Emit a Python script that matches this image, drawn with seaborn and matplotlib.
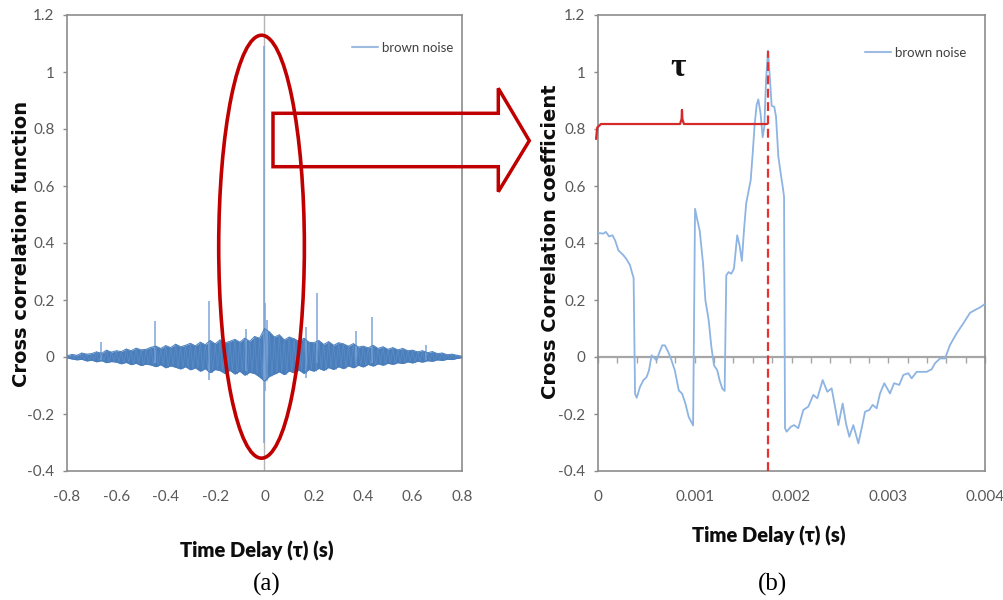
import numpy as np
import pandas as pd
import matplotlib
matplotlib.use("Agg")
import matplotlib.pyplot as plt
import seaborn as sns
from matplotlib.patches import Ellipse, Polygon

# ---------------- data ----------------
# (a) cross-correlation over +-0.8 s: noise band envelope (upper / lower) and isolated spikes
left_x = np.linspace(-0.8, 0.8, 81)
left_upper = [0.004, 0.009, 0.006, 0.014, 0.010, 0.012, 0.018, 0.013, 0.024, 0.017,
              0.022, 0.019, 0.028, 0.022, 0.031, 0.025, 0.027, 0.034, 0.038, 0.030,
              0.040, 0.033, 0.045, 0.036, 0.041, 0.048, 0.039, 0.052, 0.043, 0.058,
              0.046, 0.060, 0.050, 0.055, 0.062, 0.052, 0.066, 0.055, 0.072, 0.066,
              0.100, 0.088, 0.070, 0.078, 0.060, 0.070, 0.064, 0.055, 0.066, 0.052,
              0.050, 0.058, 0.044, 0.054, 0.041, 0.050, 0.046, 0.038, 0.047, 0.035,
              0.038, 0.032, 0.041, 0.030, 0.036, 0.027, 0.033, 0.025, 0.030, 0.022,
              0.024, 0.018, 0.022, 0.015, 0.019, 0.012, 0.014, 0.008, 0.010, 0.006,
              0.003]
left_lower = [-0.003, -0.007, -0.010, -0.008, -0.014, -0.011, -0.017, -0.013, -0.020, -0.016,
              -0.018, -0.024, -0.019, -0.027, -0.022, -0.030, -0.025, -0.028, -0.034, -0.027,
              -0.038, -0.031, -0.036, -0.042, -0.034, -0.045, -0.038, -0.050, -0.041, -0.055,
              -0.044, -0.048, -0.058, -0.047, -0.060, -0.050, -0.064, -0.054, -0.058, -0.070,
              -0.085, -0.068, -0.060, -0.052, -0.062, -0.049, -0.056, -0.046, -0.058, -0.044,
              -0.050, -0.040, -0.047, -0.037, -0.044, -0.034, -0.041, -0.031, -0.038, -0.029,
              -0.035, -0.026, -0.032, -0.024, -0.029, -0.022, -0.026, -0.020, -0.023, -0.017,
              -0.021, -0.015, -0.018, -0.013, -0.015, -0.010, -0.012, -0.008, -0.009, -0.005,
              -0.002]
spike_x = [-0.662, -0.444, -0.224, -0.076, 0.0, 0.004, 0.012, 0.167, 0.214, 0.37, 0.434, 0.653]
spike_top = [0.054, 0.127, 0.198, 0.10, 1.09, 0.19, 0.13, 0.106, 0.226, 0.09, 0.141, 0.042]
spike_bottom = [-0.01, -0.02, -0.08, -0.05, -0.30, -0.12, -0.08, -0.075, -0.02, -0.03, -0.02, -0.01]

# (b) zoomed cross-correlation coefficient 0..0.004 s
right_x = [0.0, 0.000057, 0.000081, 0.000115, 0.00015, 0.000177, 0.000211, 0.000263, 0.000297,
           0.000331, 0.000355, 0.000368, 0.000383, 0.0004, 0.000434, 0.000468, 0.000503, 0.000527,
           0.000554, 0.000578, 0.000606, 0.00063, 0.000664, 0.000691, 0.000726, 0.00076, 0.000794,
           0.000835, 0.00087, 0.000904, 0.000938, 0.000983, 0.001003, 0.001027, 0.001051, 0.001086,
           0.00111, 0.001144, 0.001172, 0.001199, 0.001233, 0.001257, 0.001285, 0.001309, 0.001326,
           0.00135, 0.001377, 0.001405, 0.001439, 0.001463, 0.001487, 0.00151, 0.001532, 0.001555,
           0.001578, 0.0016, 0.00162, 0.00164, 0.001657, 0.00168, 0.001702, 0.001719, 0.001737,
           0.001757, 0.001778, 0.001795, 0.001822, 0.00184, 0.001864, 0.001888, 0.001909, 0.001923,
           0.001933, 0.00195, 0.001992, 0.002026, 0.00207, 0.002122, 0.002174, 0.002225, 0.002267,
           0.002322, 0.00237, 0.002415, 0.00245, 0.002484, 0.002529, 0.002563, 0.002598, 0.002639,
           0.002691, 0.002725, 0.00276, 0.002804, 0.002839, 0.00288, 0.002915, 0.002959, 0.003018,
           0.00306, 0.003114, 0.003156, 0.003207, 0.003242, 0.003294, 0.003346, 0.003397, 0.003449,
           0.003483, 0.003535, 0.003587, 0.003638, 0.003707, 0.003776, 0.003845, 0.003897, 0.003948,
           0.004]
right_y = [0.435, 0.433, 0.439, 0.423, 0.427, 0.409, 0.374, 0.357, 0.342,
           0.322, 0.292, 0.278, -0.129, -0.143, -0.105, -0.082, -0.070, -0.047,
           0.006, -0.002, -0.012, 0.012, 0.041, 0.041, 0.018, -0.012, -0.047,
           -0.117, -0.129, -0.164, -0.211, -0.240, 0.520, 0.480, 0.444, 0.327,
           0.199, 0.129, 0.035, -0.029, -0.047, -0.082, -0.111, -0.119, 0.287,
           0.298, 0.292, 0.310, 0.427, 0.392, 0.337, 0.45, 0.54, 0.58,
           0.62, 0.72, 0.82, 0.885, 0.904, 0.855, 0.771, 0.808, 0.972,
           1.075, 0.972, 0.881, 0.878, 0.843, 0.703, 0.645, 0.598, 0.562,
           -0.25, -0.262, -0.245, -0.239, -0.25, -0.186, -0.174, -0.133, -0.145,
           -0.081, -0.122, -0.11, -0.174, -0.239, -0.163, -0.233, -0.28, -0.239,
           -0.303, -0.25, -0.192, -0.186, -0.168, -0.18, -0.128, -0.092, -0.128,
           -0.092, -0.098, -0.063, -0.057, -0.075, -0.052, -0.052, -0.052, -0.043,
           -0.022, -0.005, -0.005, 0.042, 0.083, 0.118, 0.155, 0.165, 0.174,
           0.186]
peak_x = 0.001757
peak_y = 1.075
bracket_x = [-0.00002, -0.000008, 0.00003, 0.000848, 0.000864, 0.000868, 0.000872, 0.000888, 0.001747]
bracket_y = [0.765, 0.805, 0.8175, 0.8175, 0.835, 0.867, 0.835, 0.8175, 0.8175]

y_ticks = [-0.4, -0.2, 0.0, 0.2, 0.4, 0.6, 0.8, 1.0, 1.2]
y_ticklabels = ["-0.4", "-0.2", "0", "0.2", "0.4", "0.6", "0.8", "1", "1.2"]
left_xticks = [-0.8, -0.6, -0.4, -0.2, 0.0, 0.2, 0.4, 0.6, 0.8]
left_xticklabels = ["-0.8", "-0.6", "-0.4", "-0.2", "0", "0.2", "0.4", "0.6", "0.8"]
right_xticks = [0.0, 0.001, 0.002, 0.003, 0.004]
right_xticklabels = ["0", "0.001", "0.002", "0.003", "0.004"]

# ---------------- style ----------------
sns.set_theme(style="white")
SANS = ["Lato", "DejaVu Sans"]
plt.rcParams["font.family"] = SANS

W, H = 1004, 600
fig = plt.figure(figsize=(W / 100, H / 100), dpi=100)
fig.patch.set_facecolor("white")

def fx(px):
    return px / W

def fy(py):
    return 1 - py / H

axl = fig.add_axes([fx(67), fy(471), (462 - 67) / W, (471 - 15) / H])
axr = fig.add_axes([fx(598), fy(471), (985 - 598) / W, (471 - 15) / H])

BAND = "#4a7ebb"
SPIKE = "#7ea6d8"
LIGHT = "#8db4e2"
FRAME = "#8c8c8c"
TICKC = "#595959"
DARKRED = "#c00000"

# ---- left panel ----
axl.axvline(0, color="#b5b5b5", lw=1.0, zorder=0)
axl.fill_between(left_x, left_lower, left_upper, color=BAND, lw=0, zorder=2)
# saw-tooth trace through the envelope values gives the band its noisy texture
trace_x = np.ravel(np.column_stack([left_x, left_x + 0.01]))
trace_y = np.ravel(np.column_stack([left_upper, left_lower]))
sns.lineplot(x=trace_x, y=trace_y, ax=axl, color="#5b8cc8", lw=0.5, label="brown noise",
             estimator=None, sort=False, zorder=3)
sns.lineplot(x=left_x, y=left_upper, ax=axl, color=BAND, lw=0.7, legend=False,
             estimator=None, sort=False, zorder=3)
sns.lineplot(x=left_x, y=left_lower, ax=axl, color=BAND, lw=0.7, legend=False,
             estimator=None, sort=False, zorder=3)
axl.vlines(spike_x, spike_bottom, spike_top, colors=SPIKE, lw=1.1, zorder=2.5)
axl.set_xlim(-0.8, 0.8)
axl.set_ylim(-0.4, 1.2)
axl.set_xticks(left_xticks)
axl.set_xticklabels(left_xticklabels)

ell = Ellipse((-0.012, 0.387), 0.347, 1.484, fill=False, ec=DARKRED, lw=2.6,
              clip_on=False, zorder=6)
axl.add_patch(ell)

# ---- right panel ----
sec = axr.secondary_xaxis(0.25)
sec.set_xticks(np.arange(0, 0.00401, 0.0002))
sec.tick_params(axis="x", direction="out", length=4.5, width=1.0, color="#a6a6a6",
                labelbottom=False)
sec.spines["bottom"].set_color("#a6a6a6")
sec.spines["bottom"].set_linewidth(1.6)
for s in ["top", "left", "right"]:
    sec.spines[s].set_visible(False)

sns.lineplot(x=right_x, y=right_y, ax=axr, color=LIGHT, lw=1.3, label="brown noise",
             estimator=None, sort=False, zorder=3)
axr.vlines(peak_x, -0.4, peak_y, colors="#e8302e", linestyles=(0, (4, 2)), lw=1.6, zorder=4)
axr.plot(bracket_x, bracket_y, color="#d42a2a", lw=1.6, clip_on=False, zorder=5,
         solid_joinstyle="round")
axr.text(0.000827, 0.985, "τ", fontsize=24, fontweight="bold", family=["Liberation Serif", "DejaVu Serif"],
         color="#111111", ha="center", va="baseline")
axr.set_xlim(0, 0.004)
axr.set_ylim(-0.4, 1.2)
axr.set_xticks(right_xticks)
axr.set_xticklabels(right_xticklabels)

# ---- shared axis styling ----
for ax in (axl, axr):
    ax.set_yticks(y_ticks)
    ax.set_yticklabels(y_ticklabels)
    ax.grid(False)
    for s in ax.spines.values():
        s.set_visible(True)
        s.set_color(FRAME)
        s.set_linewidth(1.2)
    ax.tick_params(axis="y", direction="out", length=3, width=1, color=FRAME,
                   labelsize=11, labelcolor=TICKC, pad=6, left=True)
    ax.tick_params(axis="x", length=0, labelsize=11, labelcolor=TICKC, pad=14)
    ax.set_facecolor("white")

axl.set_ylabel("Cross correlation function", fontsize=14, fontweight="bold",
               family="DejaVu Sans", color="#0d0d0d", va="center")
axl.yaxis.set_label_coords((22 - 67) / 395, (471 - 244) / 456)
axr.set_ylabel("Cross Correlation coefficient", fontsize=14, fontweight="bold",
               family="DejaVu Sans", color="#0d0d0d", va="center")
axr.yaxis.set_label_coords((551 - 598) / 387, (471 - 242) / 456)

axl.set_xlabel("Time Delay (τ) (s)", fontsize=14.5, fontweight="heavy", color="#0d0d0d", va="center")
axl.xaxis.set_label_coords((257 - 67) / 395, (471 - 551) / 456)
axr.set_xlabel("Time Delay (τ) (s)", fontsize=14.5, fontweight="heavy", color="#0d0d0d", va="center")
axr.xaxis.set_label_coords((769 - 598) / 387, (471 - 536) / 456)

# legends
for ax, (lx, ly) in ((axl, (352, 48)), (axr, (865, 53))):
    leg = ax.legend(loc="center left", bbox_to_anchor=(fx(lx), fy(ly)),
                    bbox_transform=fig.transFigure, frameon=False, borderpad=0,
                    borderaxespad=0, handlelength=2.0, handletextpad=0.3,
                    fontsize=9.5, labelcolor="#404040")
    for ln in leg.get_lines():
        ln.set_color("#9dbbe0")
        ln.set_linewidth(1.5)

# block arrow between panels (figure pixel geometry)
arrow_px = [(273, 113.3), (498.3, 113.3), (498.3, 88.3), (529.3, 140.7),
            (498.3, 191.7), (498.3, 166.7), (273, 166.7)]
arrow = Polygon([(fx(x), fy(y)) for x, y in arrow_px], closed=True, fill=False,
                ec=DARKRED, lw=2.5, joinstyle="miter", transform=fig.transFigure, zorder=10)
fig.add_artist(arrow)

# panel captions
serif = ["Liberation Serif", "DejaVu Serif"]
fig.text(fx(267), fy(584), "(a)", fontsize=18, family=serif, color="black", ha="center", va="center")
fig.text(fx(773), fy(584), "(b)", fontsize=18, family=serif, color="black", ha="center", va="center")

fig.savefig("out.png", dpi=100, facecolor="white")
